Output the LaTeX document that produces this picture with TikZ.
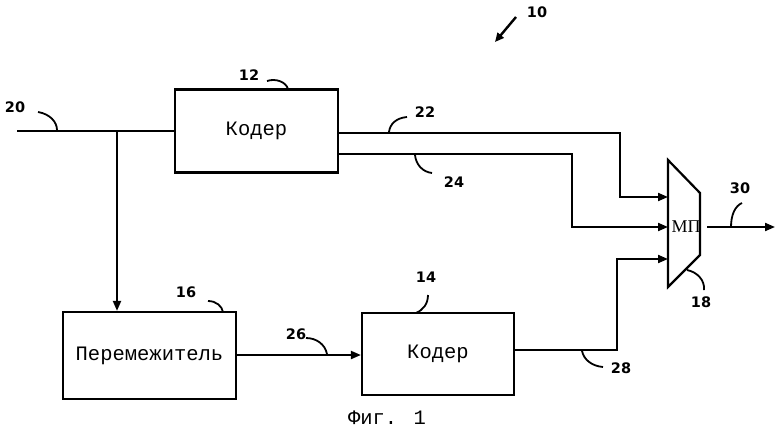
\documentclass[tikz,border=0pt]{standalone}
\usepackage{fontspec}
\setmainfont{Liberation Serif}
\newfontfamily\monof{Liberation Mono}
\newfontfamily\labf{DejaVu Sans}
\usetikzlibrary{arrows.meta}
\begin{document}
\begin{tikzpicture}[x=1pt,y=-1pt,line width=2pt,
  box/.style={draw,line width=2.2pt,inner sep=0pt,font=\monof\fontsize{20.5}{22}\selectfont},
  arr/.style={-{Triangle[length=10pt,width=8pt]}},
  lab/.style={font=\labf\bfseries\fontsize{14.5}{15}\selectfont,inner sep=0pt},
  hook/.style={line width=1.8pt}]
\useasboundingbox (0,0) rectangle (780,429);
% boxes
\node[box,minimum width=163pt,minimum height=83pt] (c12) at (256.5,131) {Кодер};
\node[box,minimum width=152pt,minimum height=82pt] (c14) at (438,354) {Кодер};
\node[box,minimum width=173pt,minimum height=87pt] (il) at (149.5,355.5) {Перемежитель};
% multiplexer
\draw[line width=2.2pt] (668,160) -- (700,193) -- (700,255) -- (668,287) -- cycle;
\node[font=\fontsize{18}{20}\selectfont,inner sep=0pt] (mux) at (686,227) {МП};
\coordinate (m1) at (668,197);
\coordinate (m2) at (668,227);
\coordinate (m3) at (668,259);
\coordinate (mo) at (707,227);
\coordinate (out) at (775,227);
% connectors
\coordinate (in) at (17,131);
\coordinate (br) at (117,131);
\draw (in) -- (c12.west);
\draw[arr] (br) -- (br |- il.north);
\coordinate (k22) at (620,197);
\coordinate (k24) at (572,227);
\coordinate (k28) at (617,259);
\draw[arr] (c12.east |- 0,133) -| (k22) -- (m1);
\draw[arr] (c12.east |- 0,154) -| (k24) -- (m2);
\draw[arr] (il.east |- 0,355) -- (c14.west |- 0,355);
\draw[arr] (c14.east |- 0,350) -| (k28) -- (m3);
\draw[arr] (mo) -- (out);
% labels
\node[lab] (l20) at (15,107) {20};
\draw[hook] (38,112) .. controls (50,114) and (57,122) .. (57,130);
\node[lab] (l12) at (249,75) {12};
\draw[hook] (267,81) .. controls (276,78) and (286,82) .. (288,89);
\node[lab] (l22) at (425,112) {22};
\draw[hook] (407,117) .. controls (396,118) and (390,124) .. (389,132);
\node[lab] (l24) at (454,182) {24};
\draw[hook] (415,155) .. controls (416,165) and (423,172) .. (432,173);
\node[lab] (l10) at (537,12) {10};
\draw[line width=2.4pt,-{Triangle[length=9pt,width=8pt]}] (516,17) -- (495,42);
\node[lab] (l16) at (186,292) {16};
\draw[hook] (208,301) .. controls (216,301) and (222,306) .. (223,312);
\node[lab] (l14) at (426,277) {14};
\draw[hook] (428,295) .. controls (428,304) and (423,310) .. (416,313);
\node[lab] (l26) at (296,334) {26};
\draw[hook] (306,338) .. controls (316,338) and (325,344) .. (327,354);
\node[lab] (l28) at (621,368) {28};
\draw[hook] (582,351) .. controls (584,360) and (592,366) .. (603,367);
\node[lab] (l30) at (740,188) {30};
\draw[hook] (742,203) .. controls (735,206) and (731,215) .. (731,227);
\node[lab] (l18) at (701,302) {18};
\draw[hook] (687,270) .. controls (697,272) and (705,280) .. (704,290);
% caption
\node[font=\monof\fontsize{20.5}{22}\selectfont,inner sep=0pt] (cap) at (387,418) {Фиг. 1};
\end{tikzpicture}
\end{document}
